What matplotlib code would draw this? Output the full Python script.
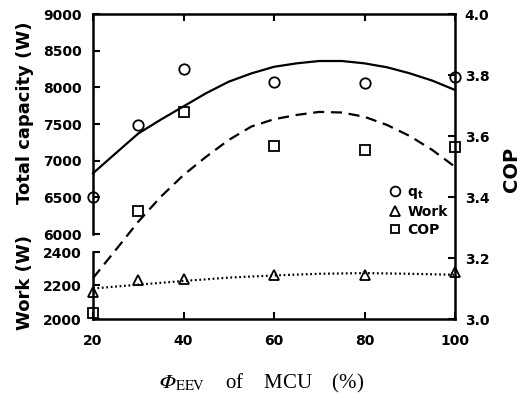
import matplotlib
matplotlib.use("Agg")
import matplotlib.pyplot as plt
from matplotlib.ticker import FixedLocator
from matplotlib.lines import Line2D

# measured points
phi = [20, 30, 40, 60, 80, 100]
qt = [6500, 7486, 8250, 8069, 8055, 8145]
work = [2163, 2235, 2241, 2264, 2264, 2280]
cop = [3.019, 3.355, 3.680, 3.567, 3.554, 3.563]

# fitted curves
phi_fit = [20, 25, 30, 35, 40, 45, 50, 55, 60, 65, 70, 75, 80, 85, 90, 95, 100]
qt_fit = [6828, 7100, 7370, 7560, 7740, 7920, 8077, 8190, 8280, 8327, 8359,
          8359, 8327, 8273, 8191, 8091, 7964]
cop_fit = [3.134, 3.226, 3.319, 3.401, 3.472, 3.532, 3.587, 3.631, 3.655,
           3.669, 3.679, 3.677, 3.663, 3.636, 3.600, 3.554, 3.499]
phi_work_fit = [20, 30, 40, 50, 60, 70, 80, 90, 100]
work_fit = [2182, 2205, 2227, 2247, 2260, 2270, 2274, 2270, 2264]

x_ticks = [20, 40, 60, 80, 100]
qt_ticks = [6000, 6500, 7000, 7500, 8000, 8500, 9000]
work_ticks = [2000, 2200, 2400]
cop_ticks = [3.0, 3.2, 3.4, 3.6, 3.8, 4.0]

W, H = 526, 411
L, R, T, B = 93, 455, 14, 319
brk_top, brk_bot = 234, 252

fs_tick = 10
lw_spine = 1.8

fig = plt.figure(figsize=(W / 100, H / 100), dpi=100)


def rect(x0, y0, x1, y1):
    return [x0 / W, 1 - y1 / H, (x1 - x0) / W, (y1 - y0) / H]


# COP axis: full box, labels on the right
ax = fig.add_axes(rect(L, T, R, B))
ax.set_xlim(20, 100)
ax.set_ylim(3.0, 4.0)
ax.yaxis.tick_right()
ax.spines["left"].set_visible(False)
for s in ["top", "bottom", "right"]:
    ax.spines[s].set_linewidth(lw_spine)
ax.set_xticks(x_ticks)
ax.set_yticks(cop_ticks)
ax.set_yticklabels([f"{v:.1f}" for v in cop_ticks])
ax.tick_params(axis="x", direction="in", top=True, length=5, width=1.5,
               pad=11, labelsize=fs_tick)
ax.tick_params(axis="y", direction="in", length=5, width=1.5, pad=7,
               labelsize=fs_tick)
for lab in ax.get_xticklabels() + ax.get_yticklabels():
    lab.set_fontweight("bold")

# total capacity axis (upper part of left scale)
axq = fig.add_axes(rect(L, T, R, brk_top), sharex=ax)
axq.patch.set_visible(False)
axq.set_ylim(6000, 9000)
for s in ["top", "bottom", "right"]:
    axq.spines[s].set_visible(False)
axq.spines["left"].set_linewidth(lw_spine)
axq.set_yticks(qt_ticks)
axq.yaxis.set_minor_locator(FixedLocator([6000]))
axq.tick_params(axis="y", which="major", direction="in", length=5, width=1.5,
                pad=8, labelsize=fs_tick)
axq.tick_params(axis="y", which="minor", direction="inout", length=16,
                width=1.8)
axq.tick_params(axis="x", bottom=False, labelbottom=False)
for lab in axq.get_yticklabels():
    lab.set_fontweight("bold")

# work axis (lower part of left scale)
axw = fig.add_axes(rect(L, brk_bot, R, B), sharex=ax)
axw.patch.set_visible(False)
axw.set_ylim(2000, 2400)
for s in ["top", "bottom", "right"]:
    axw.spines[s].set_visible(False)
axw.spines["left"].set_linewidth(lw_spine)
axw.set_yticks(work_ticks)
axw.yaxis.set_minor_locator(FixedLocator([2400]))
axw.tick_params(axis="y", which="major", direction="in", length=5, width=1.5,
                pad=8, labelsize=fs_tick)
axw.tick_params(axis="y", which="minor", direction="inout", length=16,
                width=1.8)
axw.tick_params(axis="x", bottom=False, labelbottom=False)
for lab in axw.get_yticklabels():
    lab.set_fontweight("bold")

mstyle = dict(linestyle="none", markerfacecolor="none",
              markeredgecolor="black", markeredgewidth=1.3)

axq.plot(phi_fit, qt_fit, color="black", lw=1.6, clip_on=False)
axq.plot(phi, qt, marker="o", markersize=7.5, clip_on=False, zorder=5,
         **mstyle)

axw.plot(phi_work_fit, work_fit, color="black", lw=1.6,
         linestyle=(0, (0.8, 1.2)), clip_on=False)
axw.plot(phi, work, marker="^", markersize=7.5, clip_on=False, zorder=5,
         **mstyle)

ax.plot(phi_fit, cop_fit, color="black", lw=1.6, linestyle=(0, (5, 3)),
        clip_on=False)
ax.plot(phi, cop, marker="s", markersize=6.5, clip_on=False, zorder=5,
        **mstyle)

# legend
handles = [
    Line2D([], [], marker="o", markersize=7, **mstyle),
    Line2D([], [], marker="^", markersize=7, **mstyle),
    Line2D([], [], marker="s", markersize=6, **mstyle),
]
labels = [r"$\mathbf{q_t}$", "Work", "COP"]
fig.legend(handles, labels, loc="upper left",
           bbox_to_anchor=(388 / W, 1 - 185 / H), frameon=False,
           handlelength=1.0, handletextpad=0.4, labelspacing=0.3,
           borderpad=0, borderaxespad=0,
           prop=dict(size=10, weight="bold"))

# axis titles
fig.text(25 / W, 1 - 113 / H, "Total capacity (W)", rotation=90,
         ha="center", va="center", fontsize=13, fontweight="bold")
fig.text(25 / W, 1 - 282 / H, "Work (W)", rotation=90,
         ha="center", va="center", fontsize=13, fontweight="bold")
fig.text(512 / W, 1 - 169 / H, "COP", rotation=90,
         ha="center", va="center", fontsize=14, fontweight="bold")
fig.text(262 / W, 1 - 383 / H,
         "$\U0001D6F7" + r"_{\mathrm{EEV}}$    of    MCU    (%)",
         ha="center", va="center", fontsize=15,
         family="Liberation Serif", math_fontfamily="stix")

fig.savefig("out.png", dpi=100)
